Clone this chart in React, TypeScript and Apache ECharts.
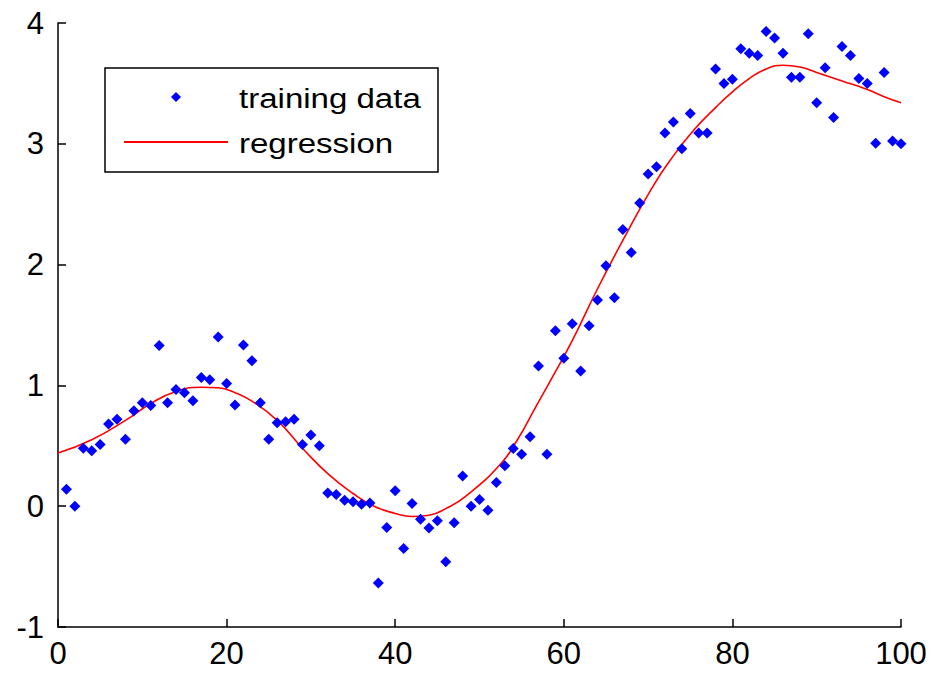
import React, { useEffect, useRef } from "react";
import * as echarts from "echarts";

const trainY: number[] = [
  0.14, 0.0, 0.48, 0.46, 0.51, 0.68, 0.72, 0.555, 0.79, 0.856,
  0.834, 1.33, 0.856, 0.967, 0.94, 0.872, 1.066, 1.046, 1.4, 1.016,
  0.837, 1.334, 1.204, 0.856, 0.555, 0.69, 0.7, 0.72, 0.51, 0.59,
  0.5, 0.11, 0.097, 0.05, 0.036, 0.017, 0.027, -0.635, -0.177, 0.127,
  -0.35, 0.022, -0.108, -0.18, -0.12, -0.46, -0.138, 0.25, 0.0, 0.055,
  -0.033, 0.196, 0.334, 0.478, 0.43, 0.574, 1.16, 0.43, 1.452, 1.224,
  1.51, 1.12, 1.494, 1.707, 1.99, 1.726, 2.29, 2.1, 2.51, 2.75,
  2.81, 3.09, 3.18, 2.96, 3.25, 3.09, 3.09, 3.62, 3.5, 3.535,
  3.786, 3.75, 3.73, 3.93, 3.875, 3.75, 3.55, 3.55, 3.91, 3.34,
  3.63, 3.217, 3.805, 3.73, 3.54, 3.5, 3.005, 3.59, 3.024, 3.0,
];

const regX: number[] = [
  0, 4, 8, 11, 14, 17, 19, 21, 23, 26, 29, 32, 35, 37.5, 40, 42, 44,
  46, 48.5, 52.5, 54.5, 56.5, 58.5, 61, 64, 67, 70.5, 73, 75.5, 78, 80,
  82, 84, 86, 88, 90, 93, 96, 98, 100,
];
const regY: number[] = [
  0.44, 0.55, 0.71, 0.85, 0.95, 0.985, 0.98, 0.94, 0.87, 0.71, 0.48, 0.27,
  0.105, 0.0, -0.06, -0.085, -0.075, -0.02, 0.09, 0.35, 0.55, 0.8, 1.05, 1.37,
  1.8, 2.2, 2.64, 2.9, 3.12, 3.3, 3.43, 3.54, 3.62, 3.65, 3.635, 3.59,
  3.52, 3.45, 3.39, 3.34,
];

const xTicks = { min: 0, max: 100, interval: 20 };
const yTicks = { min: -1, max: 4, interval: 1 };
const legendLabels = ["training data", "regression"];

const FONT = "'Liberation Sans', Arial, sans-serif";

export default function App() {
  const ref = useRef<HTMLDivElement>(null);
  useEffect(() => {
    if (!ref.current) return;
    const chart = echarts.init(ref.current, null, { renderer: "svg" });
    const axisCommon = {
      axisLine: { show: true, onZero: false, lineStyle: { color: "#000", width: 1.5 } },
      axisTick: { show: true, inside: true, length: 8, lineStyle: { color: "#000", width: 1.5 } },
      splitLine: { show: false },
    };
    chart.setOption({
      animation: false,
      backgroundColor: "#fff",
      grid: { left: 58, right: 34, top: 23, bottom: 46, containLabel: false },
      xAxis: {
        type: "value",
        ...xTicks,
        ...axisCommon,
        axisLabel: { color: "#000", fontSize: 31, fontFamily: FONT, margin: 11 },
      },
      yAxis: {
        type: "value",
        ...yTicks,
        ...axisCommon,
        axisLabel: { color: "#000", fontSize: 31, fontFamily: FONT, margin: 14 },
      },
      series: [
        {
          name: legendLabels[0],
          type: "scatter",
          symbol: "diamond",
          symbolSize: 11,
          itemStyle: { color: "#0000ff", opacity: 1 },
          data: trainY.map((y, i) => [i + 1, y]),
          z: 3,
        },
        {
          name: legendLabels[1],
          type: "line",
          smooth: 0.5,
          showSymbol: false,
          lineStyle: { color: "#ff0000", width: 1.6 },
          data: regX.map((x, i) => [x, regY[i]]),
          z: 2,
        },
      ],
      graphic: [
        {
          type: "rect",
          shape: { x: 105, y: 68, width: 333, height: 104 },
          style: { fill: "#fff", stroke: "#000", lineWidth: 1.5 },
          z: 10,
        },
        {
          type: "polygon",
          shape: { points: [[176, 92], [181, 97], [176, 102], [171, 97]] },
          style: { fill: "#0000ff" },
          z: 11,
        },
        {
          type: "line",
          shape: { x1: 124, y1: 142, x2: 228, y2: 142 },
          style: { stroke: "#ff0000", lineWidth: 2 },
          z: 11,
        },
        {
          type: "text",
          x: 239,
          y: 98,
          scaleX: 1.18,
          style: {
            text: legendLabels[0],
            font: `28px ${FONT}`,
            fill: "#000",
            verticalAlign: "middle",
            align: "left",
          },
          z: 11,
        },
        {
          type: "text",
          x: 239,
          y: 143,
          scaleX: 1.18,
          style: {
            text: legendLabels[1],
            font: `28px ${FONT}`,
            fill: "#000",
            verticalAlign: "middle",
            align: "left",
          },
          z: 11,
        },
      ],
    });
    return () => chart.dispose();
  }, []);
  return (
    <div
      ref={ref}
      style={{ position: "fixed", left: 0, top: 0, width: 935, height: 673, background: "#fff" }}
    />
  );
}
